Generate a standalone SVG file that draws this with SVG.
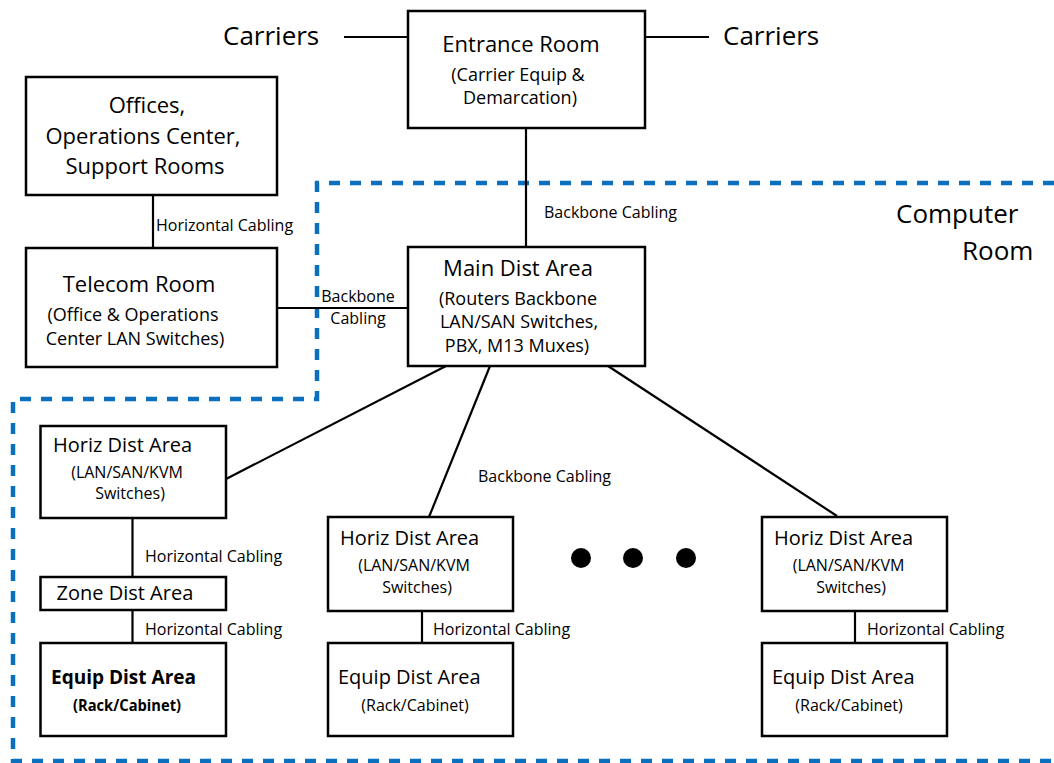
<svg xmlns="http://www.w3.org/2000/svg" width="1054" height="763" viewBox="0 0 1054 763">
<style>
.box{fill:#fff;stroke:#000;stroke-width:2.5}
.ln{stroke:#000;stroke-width:2.2;fill:none}
.zone{stroke:#0a6fbd;stroke-width:4.5;fill:none;stroke-dasharray:11 10}
text{font-family:"Open Sans","Liberation Sans",sans-serif;fill:#000}
.big{font-size:26px}
.t22{font-size:22px}
.t20{font-size:20px}
.t18{font-size:18px}
.t16{font-size:16px}
.c{text-anchor:middle}
.b{font-weight:bold}
</style>
<rect width="1054" height="763" fill="#fff"/>
<path class="zone" d="M1054,183 H317 V399 H13 V761 H1054"/>
<g id="connectors">
<line class="ln" x1="344" y1="37" x2="408" y2="37"/>
<line class="ln" x1="645" y1="37" x2="709" y2="37"/>
<line class="ln" x1="526" y1="128" x2="526" y2="247"/>
<line class="ln" x1="153" y1="195" x2="153" y2="248"/>
<line class="ln" x1="277" y1="308" x2="411" y2="308"/>
<line class="ln" x1="446" y1="366" x2="226" y2="479"/>
<line class="ln" x1="490" y1="366" x2="429" y2="517"/>
<line class="ln" x1="608" y1="366" x2="837" y2="516"/>
<line class="ln" x1="132.5" y1="518" x2="132.5" y2="577"/>
<line class="ln" x1="132.5" y1="610" x2="132.5" y2="643"/>
<line class="ln" x1="422" y1="611" x2="422" y2="643"/>
<line class="ln" x1="855" y1="611" x2="855" y2="643"/>
<text class="t16" x="156" y="231">Horizontal Cabling</text>
<text class="t16" x="544" y="218">Backbone Cabling</text>
<text class="t16 c" x="358" y="302">Backbone</text>
<text class="t16 c" x="358" y="324">Cabling</text>
<text class="t16" x="478" y="482">Backbone Cabling</text>
<text class="t16" x="145" y="562">Horizontal Cabling</text>
<text class="t16" x="145" y="635">Horizontal Cabling</text>
<text class="t16" x="433" y="635">Horizontal Cabling</text>
<text class="t16" x="867" y="635">Horizontal Cabling</text>
</g>
<g id="carriers-left"><text class="big" x="223" y="45">Carriers</text></g>
<g id="carriers-right"><text class="big" x="723" y="45">Carriers</text></g>
<g id="computer-room-label">
<text class="big" x="896" y="223">Computer</text>
<text class="big" x="962" y="260">Room</text>
</g>
<g id="entrance-room">
<rect class="box" x="408" y="11" width="237" height="117"/>
<text class="t22 c" x="521" y="52">Entrance Room</text>
<text class="t18 c" x="518" y="81">(Carrier Equip &amp;</text>
<text class="t18 c" x="520" y="104">Demarcation)</text>
</g>
<g id="offices">
<rect class="box" x="26" y="77" width="251" height="118"/>
<text class="t22 c" x="147" y="113">Offices,</text>
<text class="t22 c" x="143" y="144">Operations Center,</text>
<text class="t22 c" x="145" y="174">Support Rooms</text>
</g>
<g id="telecom-room">
<rect class="box" x="26" y="248" width="251" height="119"/>
<text class="t22 c" x="139" y="292">Telecom Room</text>
<text class="t18 c" x="133" y="321">(Office &amp; Operations</text>
<text class="t18 c" x="135" y="345">Center LAN Switches)</text>
</g>
<g id="main-dist-area">
<rect class="box" x="408" y="247" width="237" height="119"/>
<text class="t22 c" x="518" y="276">Main Dist Area</text>
<text class="t18 c" x="518" y="305">(Routers Backbone</text>
<text class="t18 c" x="519" y="328">LAN/SAN Switches,</text>
<text class="t18 c" x="517" y="352">PBX, M13 Muxes)</text>
</g>
<g id="hda-1">
<rect class="box" x="40.5" y="426" width="185.5" height="92"/>
<text class="t20" x="53" y="452">Horiz Dist Area</text>
<text class="t16 c" x="127" y="478">(LAN/SAN/KVM</text>
<text class="t16 c" x="130" y="499">Switches)</text>
</g>
<g id="zone-dist-area">
<rect class="box" x="40.5" y="577" width="185.5" height="33"/>
<text class="t20" x="56.5" y="600">Zone Dist Area</text>
</g>
<g id="eda-1">
<rect class="box" x="40.5" y="643" width="185.5" height="93"/>
<text class="t20 b" x="51" y="684" textLength="145" lengthAdjust="spacingAndGlyphs">Equip Dist Area</text>
<text class="t16 b" x="73" y="711" textLength="108" lengthAdjust="spacingAndGlyphs">(Rack/Cabinet)</text>
</g>
<g id="hda-2">
<rect class="box" x="328" y="517" width="185" height="94"/>
<text class="t20" x="340" y="545">Horiz Dist Area</text>
<text class="t16 c" x="414" y="571">(LAN/SAN/KVM</text>
<text class="t16 c" x="417" y="593">Switches)</text>
</g>
<g id="eda-2">
<rect class="box" x="328" y="643" width="185" height="93"/>
<text class="t20" x="338" y="684">Equip Dist Area</text>
<text class="t16 c" x="415" y="711">(Rack/Cabinet)</text>
</g>
<g id="ellipsis">
<circle cx="581" cy="558" r="10"/>
<circle cx="633" cy="558" r="10"/>
<circle cx="686" cy="558" r="10"/>
</g>
<g id="hda-3">
<rect class="box" x="762" y="517" width="185" height="94"/>
<text class="t20" x="774" y="545">Horiz Dist Area</text>
<text class="t16 c" x="848.5" y="571">(LAN/SAN/KVM</text>
<text class="t16 c" x="851" y="593">Switches)</text>
</g>
<g id="eda-3">
<rect class="box" x="762" y="643" width="185" height="93"/>
<text class="t20" x="772" y="684">Equip Dist Area</text>
<text class="t16 c" x="849" y="711">(Rack/Cabinet)</text>
</g>
</svg>
